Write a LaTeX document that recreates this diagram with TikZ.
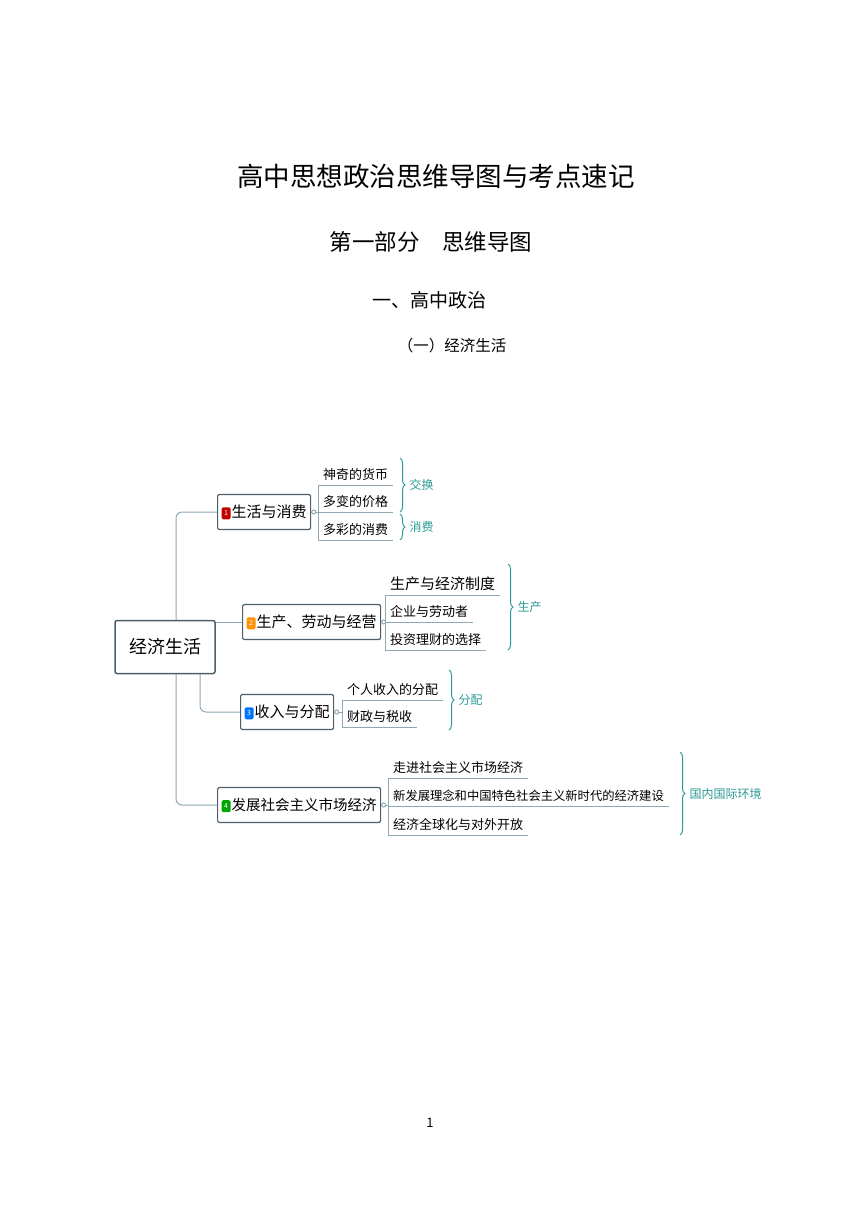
\documentclass[tikz,border=0pt]{standalone}
\usepackage{fontspec}
\setmainfont{Noto Sans CJK SC}
\usetikzlibrary{positioning,decorations.pathreplacing}
\definecolor{linec}{HTML}{8FA8B2}
\definecolor{boxc}{HTML}{4D5F6A}
\definecolor{tagc}{HTML}{2A9A96}
\newcommand{\fs}[1]{\fontsize{#1}{#1}\selectfont}
\newcommand{\badge}[2]{\tikz[baseline=-4pt]\node[fill=#1,rounded corners=1.5pt,inner sep=0pt,minimum width=9pt,minimum height=12pt,text=white,font=\fs{7}]{#2};\hspace{1pt}}

\begin{document}
\begin{tikzpicture}[
            x = 1pt, y = -1pt,
            branch/.style = {draw=boxc, line width=1.2pt, rounded corners=2pt, fill=white, inner xsep=4pt, minimum height=35pt, font=\fs{15}},
            leaf/.style = {anchor=south west, inner xsep=5pt, inner ysep=4pt, font=\fs{13}},
            tag/.style = {font=\fs{12}\itshape, text=tagc},
            conn/.style = {linec, line width=1pt},
            brc/.style = {tagc, line width=1pt, decorate, decoration={brace,amplitude=5pt}}
        ]
	\useasboundingbox (0,0) rectangle (860,1210);

	% headings
	\node (title) at (436,176) {\fs{26.5}高中思想政治思维导图与考点速记};
	\node (part) at (431,242) {\fs{22.5}第一部分\hspace{1em}思维导图};
	\node (sec) at (429,300) {\fs{19}一、高中政治};
	\node (sub) at (452,346) {\fs{15.5}（一）经济生活};
	\node (page) at (430,1123) {\fs{13}1};

	% trunk connectors (drawn first, the root box covers them)
	\coordinate (b1p) at (217,512);
	\coordinate (b2p) at (242,622);
	\coordinate (b3p) at (240,712);
	\coordinate (b4p) at (217,805);
	\draw[conn, rounded corners=6pt] (176,647) |- (b1p);
	\draw[conn] (176,622) -- (b2p);
	\draw[conn, rounded corners=6pt] (200,647) |- (b3p);
	\draw[conn, rounded corners=6pt] (176,647) |- (b4p);

	% root and branches
	\node[branch, minimum width=100pt, minimum height=53pt, font=\fs{18}, line width=1.5pt] (root) at (165,647) {经济生活};
	\node[branch, anchor=west] (b1) at (b1p) {\badge{red!75!black}{1}生活与消费};
	\node[branch, anchor=west] (b2) at (b2p) {\badge{orange!85!yellow}{2}生产、劳动与经营};
	\node[branch, anchor=west] (b3) at (b3p) {\badge{blue!55!cyan}{3}收入与分配};
	\node[branch, anchor=west, font=\fs{14.5}] (b4) at (b4p) {\badge{green!65!black}{4}发展社会主义市场经济};

	% leaves of branch 1
	\node[leaf] (l11) at (318,485) {神奇的货币};
	\node[leaf] (l12) at (318,512) {多变的价格};
	\node[leaf] (l13) at (318,540) {多彩的消费};
	% leaves of branch 2
	\node[leaf, font=\fs{15}] (l21) at (385,595) {生产与经济制度};
	\node[leaf] (l22) at (385,622) {企业与劳动者};
	\node[leaf] (l23) at (385,650) {投资理财的选择};
	% leaves of branch 3
	\node[leaf] (l31) at (342,700) {个人收入的分配};
	\node[leaf] (l32) at (342,727) {财政与税收};
	% leaves of branch 4
	\node[leaf] (l41) at (388,778) {走进社会主义市场经济};
	\node[leaf, font=\fs{12.3}] (l42) at (388,806) {新发展理念和中国特色社会主义新时代的经济建设};
	\node[leaf] (l43) at (388,835) {经济全球化与对外开放};

	% leaf connectors
	\foreach \b/\x/\first/\last/\rest in {b1/318/l11/l13/{l11,l12,l13},
	                                      b2/385/l21/l23/{l21,l22,l23},
	                                      b3/342/l31/l32/{l31,l32},
	                                      b4/388/l41/l43/{l41,l42,l43}} {
		\draw[conn] (\b.east) -- (\x,0 |- \b.east);
		\draw[conn, fill=white] (\b.east) ++(2.5,0) circle (2pt);
		\draw[conn] (\x,0 |- \first.south west) -- (\x,0 |- \last.south west);
		\foreach \l in \rest
			\draw[conn] (\x,0 |- \l.south west) -- (\l.south east);
	}

	% braces and tags
	\draw[brc] (400,458) -- (400,512) coordinate[midway] (m1);
	\node[tag, right=6pt of m1] (t1) {交换};
	\draw[brc] (400,514) -- (400,540) coordinate[midway] (m2);
	\node[tag, right=6pt of m2] (t2) {消费};
	\draw[brc] (508,564) -- (508,650) coordinate[midway] (m3);
	\node[tag, right=6pt of m3] (t3) {生产};
	\draw[brc] (449,670) -- (449,730) coordinate[midway] (m4);
	\node[tag, right=6pt of m4] (t4) {分配};
	\draw[brc] (680,752) -- (680,835) coordinate[midway] (m5);
	\node[tag, right=6pt of m5] (t5) {国内国际环境};

\end{tikzpicture}
\end{document}
